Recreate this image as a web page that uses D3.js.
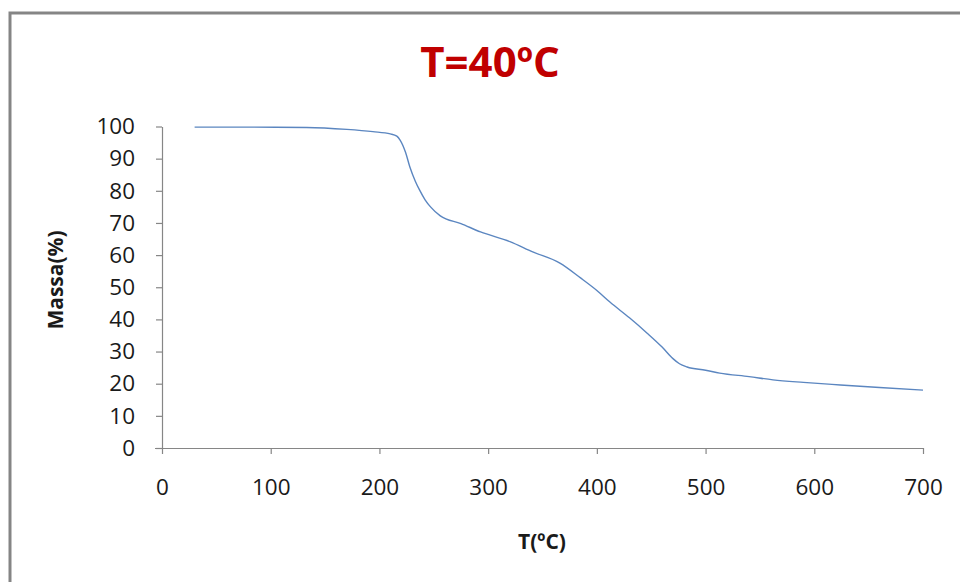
<!DOCTYPE html>
<html>
<head>
<meta charset="utf-8">
<script src="https://cdn.jsdelivr.net/npm/d3@7"></script>
<style>
  body { margin: 0; background: #fff; }
  text { font-family: "Open Sans", "Lato", sans-serif; }
</style>
</head>
<body>
<script>
// temperatures (ºC) and mass (%)
const temps = [30, 80, 133, 170, 194, 210, 216, 219, 224, 228, 233, 237, 242, 247, 256, 275, 293, 320, 341, 366, 385, 400, 412, 430, 446, 460, 470, 476, 483, 500, 513, 540, 562, 590, 624, 660, 700];
const massa = [99.8, 99.8, 99.7, 99.1, 98.4, 97.7, 97.0, 95.8, 92.0, 87.4, 83.0, 80.2, 77.2, 75.0, 72.2, 69.8, 67.2, 64.2, 61.0, 57.5, 52.9, 49.0, 45.4, 40.5, 35.8, 31.4, 27.8, 26.2, 25.2, 24.2, 23.3, 22.2, 21.2, 20.4, 19.6, 18.8, 18.0];
const xTicks = [0, 100, 200, 300, 400, 500, 600, 700];
const yTicks = [0, 10, 20, 30, 40, 50, 60, 70, 80, 90, 100];

const svg = d3.select("body").append("svg")
    .attr("width", 960)
    .attr("height", 582);

// outer frame
svg.append("rect")
    .attr("x", 10).attr("y", 13)
    .attr("width", 960).attr("height", 600)
    .attr("fill", "#fff")
    .attr("stroke", "#858585")
    .attr("stroke-width", 3);

const x = d3.scaleLinear().domain([0, 700]).range([162, 923]);
const y = d3.scaleLinear().domain([0, 100]).range([448, 126.5]);

const xAxis = svg.append("g")
    .attr("transform", "translate(0,448)")
    .call(d3.axisBottom(x).tickValues(xTicks).tickSize(6).tickPadding(25).tickSizeOuter(0));
const yAxis = svg.append("g")
    .attr("transform", "translate(162,0)")
    .call(d3.axisLeft(y).tickValues(yTicks).tickSize(6).tickPadding(21).tickSizeOuter(0));

[xAxis, yAxis].forEach(g => {
  g.select(".domain").attr("stroke", "#868686").attr("stroke-width", 1.2);
  g.selectAll(".tick line").attr("stroke", "#868686").attr("stroke-width", 1.2);
  g.selectAll(".tick text")
      .attr("fill", "#1a1a1a")
      .style("font-size", "22.5px")
      .style("font-family", "'Open Sans', sans-serif");
});
// x axis line extends a bit left of the y axis
xAxis.select(".domain").attr("d", "M155,0.5H923");

const pts = temps.map((t, i) => [t, massa[i]]);
svg.append("path")
    .datum(pts)
    .attr("fill", "none")
    .attr("stroke", "#5b86c0")
    .attr("stroke-width", 1.4)
    .attr("d", d3.line().x(d => x(d[0])).y(d => y(d[1])).curve(d3.curveMonotoneX));

svg.append("text")
    .attr("x", 490).attr("y", 77)
    .attr("text-anchor", "middle")
    .attr("fill", "#c00000")
    .style("font-size", "42px")
    .style("font-weight", "bold")
    .text("T=40ºC");

svg.append("text")
    .attr("x", 542).attr("y", 549)
    .attr("text-anchor", "middle")
    .attr("fill", "#1a1a1a")
    .style("font-size", "21px")
    .style("font-weight", "bold")
    .text("T(ºC)");

svg.append("text")
    .attr("transform", "translate(63,280) rotate(-90)")
    .attr("text-anchor", "middle")
    .attr("fill", "#1a1a1a")
    .style("font-size", "21px")
    .style("font-weight", "bold")
    .text("Massa(%)");
</script>
</body>
</html>
